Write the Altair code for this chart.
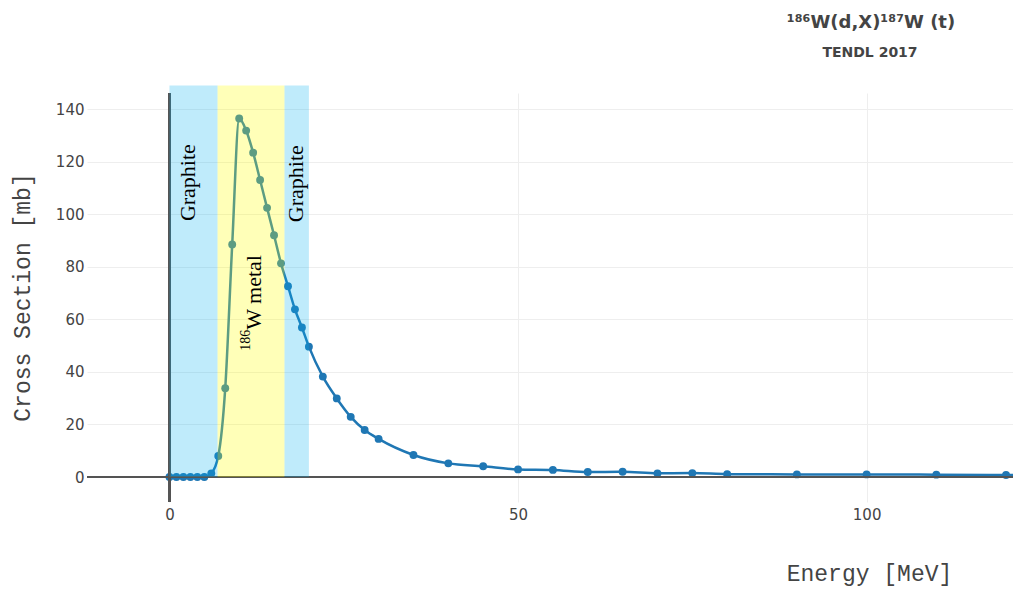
import altair as alt
import pandas as pd

# ---- data ----
energy = [0, 1, 2, 3, 4, 5, 6, 7, 8, 9, 10, 11, 12, 13, 14, 15, 16, 17, 18, 19, 20,
          22, 24, 26, 28, 30, 35, 40, 45, 50, 55, 60, 65, 70, 75, 80, 90, 100, 110, 120, 130]
cross_section = [0, 0, 0, 0, 0, 0, 1.4, 8.0, 33.8, 88.5, 136.4, 131.8, 123.4, 113.0, 102.4,
                 92.0, 81.3, 72.6, 63.8, 56.9, 49.6, 38.2, 29.9, 22.9, 17.9, 14.5, 8.4, 5.2,
                 4.1, 2.9, 2.7, 1.9, 2.0, 1.4, 1.5, 1.1, 1.0, 1.0, 0.9, 0.75, 0.65]

band_start = [0, 6.9, 16.5]
band_end = [6.9, 16.5, 20.0]
band_material = ["Graphite", "186W metal", "Graphite"]
band_top = 149

x_ticks = [0, 50, 100]
y_ticks = [0, 20, 40, 60, 80, 100, 120, 140]

title_text = "\u00b9\u2078\u2076W(d,X)\u00b9\u2078\u2077W (t)"
subtitle_text = "TENDL 2017"

# ---- tables ----
df = pd.DataFrame({"E": energy, "XS": cross_section})
bands = pd.DataFrame({"start": band_start, "end": band_end, "material": band_material})

labels_big = pd.DataFrame({
    "text": ["Graphite", "Graphite"],
    "E": [2.7, 18.1],
    "XS": [112, 111.6],
})
label_metal = pd.DataFrame({"text": ["W metal"], "E": [12.1], "XS": [56]})
label_sup = pd.DataFrame({"text": ["186"], "E": [11.0], "XS": [56]})

BLUE = "#1f77b4"
W, H = 926, 409

xscale = alt.Scale(domain=[-11.83, 121], nice=False, zero=False)
yscale = alt.Scale(domain=[-9.5, 146.1], nice=False, zero=False)

x_enc = alt.X("E:Q", scale=xscale,
              axis=alt.Axis(values=x_ticks, title="Energy [MeV]", labelPadding=5,
                            titleX=782, titleY=78, titleAlign="center",
                            titleBaseline="alphabetic"))
y_enc = alt.Y("XS:Q", scale=yscale,
              axis=alt.Axis(values=y_ticks, title="Cross Section [mb]", labelPadding=3,
                            titleX=-65, titleY=204, titleAngle=270, titleAlign="center",
                            titleBaseline="middle"))

base = alt.Chart(df)

line = base.mark_line(color=BLUE, strokeWidth=2.5, interpolate="monotone", clip=True).encode(
    x=x_enc, y=y_enc)
points = base.mark_point(filled=True, color=BLUE, size=62, opacity=1, clip=True).encode(
    x="E:Q", y="XS:Q")

zero_h = alt.Chart(df).mark_rule(color="#555", strokeWidth=1.5).encode(y=alt.datum(0))
zero_v = alt.Chart(df).mark_rule(color="#555", strokeWidth=1.5).encode(x=alt.datum(0))

band_layer = alt.Chart(bands).mark_rect(clip=False).encode(
    x="start:Q", x2="end:Q",
    y=alt.datum(0), y2=alt.datum(band_top),
    color=alt.Color("material:N",
                    scale=alt.Scale(domain=["Graphite", "186W metal"],
                                    range=["#00b0f0", "#ffff00"]),
                    legend=None),
    opacity=alt.Opacity("material:N",
                        scale=alt.Scale(domain=["Graphite", "186W metal"],
                                        range=[0.25, 0.28]),
                        legend=None),
)

txt_graphite = alt.Chart(labels_big).mark_text(
    angle=270, font="Liberation Serif", fontSize=22, color="black",
    align="center", baseline="middle").encode(x="E:Q", y="XS:Q", text="text:N")
txt_metal = alt.Chart(label_metal).mark_text(
    angle=270, font="Liberation Serif", fontSize=22, color="black",
    align="left", baseline="middle").encode(x="E:Q", y="XS:Q", text="text:N")
txt_sup = alt.Chart(label_sup).mark_text(
    angle=270, font="Liberation Serif", fontSize=14, color="black",
    align="right", baseline="middle").encode(x="E:Q", y="XS:Q", text="text:N")

title = alt.Chart(pd.DataFrame({"t": [title_text]})).mark_text(
    font="DejaVu Sans", fontWeight="bold", fontSize=18, color="#444",
    align="center", baseline="middle").encode(
    x=alt.value(784), y=alt.value(-70), text="t:N")
subtitle = alt.Chart(pd.DataFrame({"t": [subtitle_text]})).mark_text(
    font="DejaVu Sans", fontWeight="bold", fontSize=14, color="#444",
    align="center", baseline="middle").encode(
    x=alt.value(783), y=alt.value(-40), text="t:N")

chart = alt.layer(
    line, points, zero_h, zero_v, band_layer, txt_graphite, txt_metal, txt_sup,
    title, subtitle
).properties(
    width=W, height=H,
    padding={"left": 79, "top": 85, "right": 0, "bottom": 84},
    autosize=alt.AutoSizeParams(type="none"),
).configure_view(strokeWidth=0).configure_axis(
    labelFont="DejaVu Sans", labelFontSize=15, labelColor="#444",
    ticks=False, domain=False, gridColor="#eeeeee", gridWidth=1,
    titleFont="Liberation Mono", titleFontSize=23, titleFontWeight="normal",
    titleColor="#444",
)

chart.save("out.html", embed_options={"renderer": "svg", "actions": False})
